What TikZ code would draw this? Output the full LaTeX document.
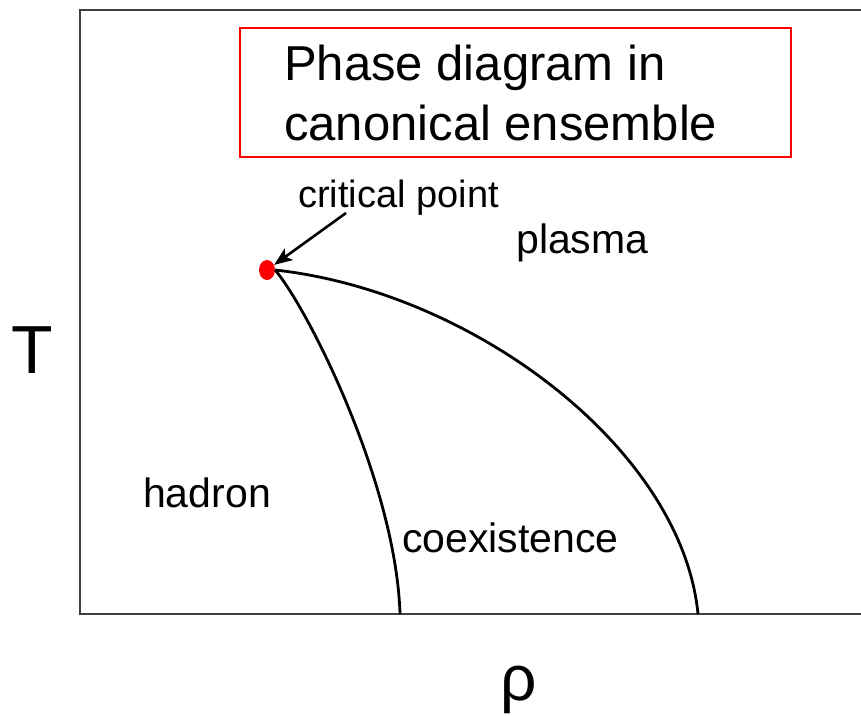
\documentclass[tikz,border=0pt]{standalone}
\usepackage{fontspec}
\setmainfont{Liberation Sans}
\usetikzlibrary{arrows.meta,shapes.geometric}
\begin{document}
\begin{tikzpicture}[x=1pt,y=-1pt,
  frameline/.style={line width=1.8pt,draw=black!75},
  phaseline/.style={line width=2.8pt,draw=black},
  arrowline/.style={line width=2.6pt,draw=black,-{Stealth[length=18pt,width=14pt,inset=4pt]}},
  lbl/.style={anchor=base west,inner sep=0pt,font=\fontsize{41}{48}\selectfont},
  ttl/.style={anchor=base west,inner sep=0pt,font=\fontsize{49}{60}\selectfont},
  axlbl/.style={anchor=base,inner sep=0pt}]
\useasboundingbox (0,0) rectangle (861,715);
\fill[white] (0,0) rectangle (861,715);
% frame
\coordinate (fTL) at (80,10);
\coordinate (fTR) at (861,10);
\coordinate (fBL) at (80,614);
\coordinate (fBR) at (861,614);
\draw[frameline] (fTR) -- (fTL) -- (fBL) -- (fBR);
% title box
\node (box) [draw=red,line width=2.4pt,minimum width=551pt,minimum height=129pt,inner sep=0pt] at (515.5,92.5) {};
\node (title1) [ttl] at (284,80) {Phase diagram in};
\node (title2) [ttl] at (284,140) {canonical ensemble};
% critical point
\node (cp) [ellipse,fill=red,minimum width=16pt,minimum height=20pt,inner sep=0pt] at (267,270) {};
\node (cplabel) [lbl,font=\fontsize{38}{44}\selectfont] at (298,207) {critical point};
\coordinate (arrstart) at (346,213);
\draw[arrowline] (arrstart) -- (cp);
% phase boundaries
\coordinate (ax1) at (400,614);
\coordinate (ax2) at (698,614);
\draw[phaseline] (cp.east) .. controls (310,312) and (396,485) .. (ax1);
\draw[phaseline] (cp.east) .. controls (475,292) and (682,450) .. (ax2);
% region labels
\node (plasma) [lbl] at (516,253) {plasma};
\node (hadron) [lbl] at (143,507) {hadron};
\node (coex) [lbl] at (402,552) {coexistence};
% axis labels
\node (T) [axlbl,font=\fontsize{68}{80}\selectfont] at (32,373) {T};
\node (rho) [axlbl,font=\fontsize{64}{76}\selectfont] at (519,700) {ρ};
\end{tikzpicture}
\end{document}
